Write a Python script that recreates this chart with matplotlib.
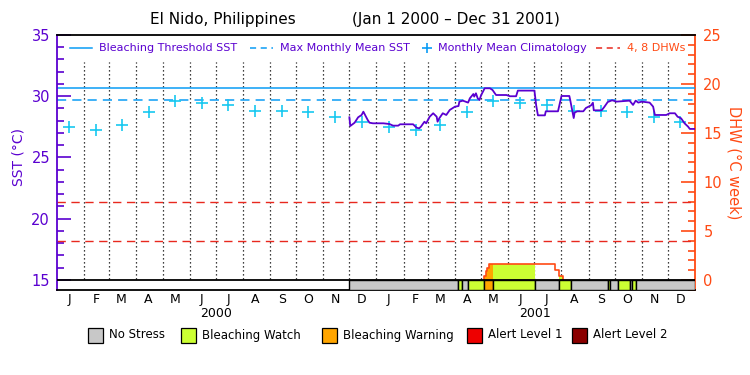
import matplotlib
matplotlib.use('Agg')
import matplotlib.pyplot as plt
import matplotlib.dates as mdates
from matplotlib.patches import Rectangle
from matplotlib.ticker import MultipleLocator, FixedLocator, FuncFormatter
import numpy as np

#------------------------------------ Data -------------------------------------

# Monthly mean climatology (deg C), Jan..Dec
clim_sst = [27.46, 27.24, 27.65, 28.69, 29.64, 29.42, 29.26, 28.82, 28.82, 28.69, 28.28, 27.92]
mmm_sst = 29.67
threshold_sst = 30.67
dhw_lines = [4, 8]

# SST
sst_dates = ['2000-12-01', '2000-12-02', '2000-12-07', '2000-12-11', '2000-12-15', '2000-12-17',
             '2000-12-20', '2000-12-22', '2000-12-24', '2000-12-28', '2001-01-09', '2001-01-16',
             '2001-01-20', '2001-01-26', '2001-01-28', '2001-02-12', '2001-02-16', '2001-02-19',
             '2001-02-21', '2001-02-25', '2001-02-27', '2001-03-03', '2001-03-07', '2001-03-11',
             '2001-03-12', '2001-03-14', '2001-03-18', '2001-03-22', '2001-03-26', '2001-04-01',
             '2001-04-05', '2001-04-06', '2001-04-10', '2001-04-16', '2001-04-18', '2001-04-22',
             '2001-04-23', '2001-04-25', '2001-04-27', '2001-04-29', '2001-05-01', '2001-05-03',
             '2001-05-05', '2001-05-11', '2001-05-14', '2001-05-18', '2001-05-30', '2001-06-03',
             '2001-06-10', '2001-06-12', '2001-07-01', '2001-07-03', '2001-07-05', '2001-07-13',
             '2001-07-14', '2001-07-28', '2001-08-01', '2001-08-10', '2001-08-11', '2001-08-15',
             '2001-08-16', '2001-08-19', '2001-08-26', '2001-08-29', '2001-09-04', '2001-09-06',
             '2001-09-07', '2001-09-16', '2001-09-19', '2001-09-23', '2001-09-28', '2001-10-03',
             '2001-10-18', '2001-10-22', '2001-10-25', '2001-10-28', '2001-11-01', '2001-11-10',
             '2001-11-14', '2001-11-16', '2001-11-29', '2001-12-03', '2001-12-09', '2001-12-12',
             '2001-12-16', '2001-12-20', '2001-12-24', '2001-12-26', '2001-12-31']
sst_vals = [28.28, 27.57, 27.84, 28.28, 28.47, 28.74,
            28.33, 28.06, 27.84, 27.79, 27.79, 27.73,
            27.60, 27.60, 27.71, 27.71, 27.43, 27.38,
            27.52, 27.92, 27.79, 28.33, 28.61, 28.33,
            27.92, 28.20, 28.61, 28.47, 28.88, 29.15,
            29.20, 29.56, 29.64, 29.48, 29.83, 30.18,
            29.97, 30.24, 29.83, 29.69, 30.10, 30.37,
            30.65, 30.65, 30.51, 30.10, 30.10, 30.00,
            30.00, 30.46, 30.46, 29.26, 28.44, 28.44,
            28.77, 28.77, 30.02, 30.02, 29.69, 28.22,
            28.66, 28.77, 28.77, 29.04, 29.26, 29.47,
            28.85, 28.85, 29.12, 29.53, 29.67, 29.56,
            29.64, 29.29, 29.64, 29.48, 29.56, 29.48,
            29.15, 28.47, 28.47, 28.61, 28.61, 28.33,
            28.20, 27.79, 27.52, 27.33, 27.33]

# Degree heating weeks (step values)
dhw_dates = ['2001-05-04', '2001-05-06', '2001-05-08', '2001-05-10', '2001-07-25', '2001-07-29', '2001-08-03']
dhw_vals = [0.44, 0.92, 1.19, 1.6, 1.02, 0.44, 0.0]

# Stress level periods (start dates, level), last one runs to end
stress_starts = ['2000-12-01', '2001-04-05', '2001-04-09', '2001-04-16', '2001-05-04', '2001-05-14',
                 '2001-07-02', '2001-07-29', '2001-08-12', '2001-09-23', '2001-09-26', '2001-10-05',
                 '2001-10-19', '2001-10-21', '2001-10-25']
stress_level = [0, 1, 0, 1, 2, 1, 0, 1, 0, 1, 0, 1, 0, 1, 0]
stress_end = '2002-01-01'

stress_names = ['No Stress', 'Bleaching Watch', 'Bleaching Warning', 'Alert Level 1', 'Alert Level 2']
stress_colors = ['#c8c8c8', '#ccff33', '#ffa500', '#ee0000', '#8b0000']

#------------------------------------ Style ------------------------------------

purple = '#5a00d0'
orange = '#ff4a14'
cyan_line = '#0a9cf5'
cyan_plus = '#18c8f0'
red_dash = '#e8281e'

def dhw2sst(d):
    return 15 + np.asarray(d) * 0.8

def sst2dhw(s):
    return (np.asarray(s) - 15) * 1.25

#------------------------------------ Figure -----------------------------------

fig = plt.figure(figsize=(7.5, 3.75), dpi=100)
ax = fig.add_axes([0.076, 0.2267, 0.8507, 0.68])

x0 = mdates.datestr2num('2000-01-01')
x1 = mdates.datestr2num('2002-01-01')
ybot = 15 - 10 / 12.25
ax.set_xlim(x0, x1)
ax.set_ylim(ybot, 35)

# month boundary dotted lines
month_starts = mdates.datestr2num(['%d-%02d-01' % (y, m) for y in (2000, 2001) for m in range(1, 13)])[1:]
ax.vlines(month_starts, 15.1, 32.8, colors='black', linestyles=(0, (1, 2.2)), lw=0.9, zorder=1)

# threshold and MMM lines
ax.axhline(threshold_sst, color=cyan_line, lw=1.1, zorder=2)
ax.axhline(mmm_sst, color=cyan_line, lw=1.1, ls=(0, (6, 4)), zorder=2)
for d in dhw_lines:
    ax.axhline(dhw2sst(d), color=red_dash, lw=1.0, ls=(0, (6, 4)), zorder=2)

# climatology crosses
clim_dates = mdates.datestr2num(['%d-%02d-15' % (y, m) for y in (2000, 2001) for m in range(1, 13)])
ax.plot(clim_dates, clim_sst * 2, ls='none', marker='+', ms=9, mew=1.2, color=cyan_plus, zorder=3)

# SST
ax.plot(mdates.datestr2num(sst_dates), sst_vals, color=purple, lw=1.3, zorder=4)

# DHW fill per stress period, then outline
dx = mdates.datestr2num(dhw_dates)
dv = np.array(dhw_vals)
s_x = mdates.datestr2num(stress_starts + [stress_end])
for i, lvl in enumerate(stress_level):
    if lvl == 0:
        continue
    s, e = s_x[i], s_x[i + 1]
    pts = np.unique(np.r_[s, dx[(dx > s) & (dx < e)], e])
    idx = np.searchsorted(dx, pts, side='right') - 1
    v = np.where(idx >= 0, dv[np.clip(idx, 0, None)], 0.0)
    ax.fill_between(pts, 15, dhw2sst(v), step='post', color=stress_colors[lvl], lw=0, zorder=2.5)
ax.step(np.r_[dx[0], dx], dhw2sst(np.r_[0, dv]), where='post', color=orange, lw=1.2, zorder=3)

# stress bar
for i, lvl in enumerate(stress_level):
    ax.bar(s_x[i], 15 - ybot, width=s_x[i + 1] - s_x[i], bottom=ybot, align='edge',
           color=stress_colors[lvl], edgecolor='black', lw=1.0, zorder=5)
ax.axhline(15, color='black', lw=1.3, zorder=6)

#------------------------------------ Axes -------------------------------------

ax.yaxis.set_major_locator(FixedLocator([15, 20, 25, 30, 35]))
ax.yaxis.set_minor_locator(FixedLocator(list(range(16, 35))))
ax.tick_params(axis='y', which='major', direction='in', length=10, width=1.2, colors=purple,
               labelsize=10.5, pad=5)
ax.tick_params(axis='y', which='minor', direction='in', length=5, width=1.2, colors=purple)
ax.set_ylabel('SST (°C)', color=purple, fontsize=10)
ax.yaxis.set_label_coords(-0.05, 0.52)

ax.xaxis.set_major_locator(FixedLocator(clim_dates))
ax.xaxis.set_major_formatter(FuncFormatter(lambda x, p: mdates.num2date(x).strftime('%b')[0]))
ax.tick_params(axis='x', length=0, labelsize=9, pad=2.5)

ax.spines['left'].set_color(purple)
ax.spines['right'].set_visible(False)
for sp in ('left', 'top', 'bottom'):
    ax.spines[sp].set_linewidth(1.3)

sec = ax.secondary_yaxis('right', functions=(sst2dhw, dhw2sst))
sec.yaxis.set_major_locator(FixedLocator([0, 5, 10, 15, 20, 25]))
sec.yaxis.set_minor_locator(MultipleLocator(1))
sec.tick_params(which='major', direction='in', length=10, width=1.2, colors=orange, labelsize=10.5, pad=6)
sec.tick_params(which='minor', direction='in', length=5, width=1.2, colors=orange)
sec.spines['right'].set_color(orange)
sec.spines['right'].set_linewidth(1.3)
sec.set_ylabel('DHW (°C week)', color=orange, fontsize=10.5, rotation=270, labelpad=14)

xt = ax.get_xaxis_transform()
ax.text(mdates.datestr2num('2000-07-01'), -0.094, '2000', transform=xt, ha='center', va='center', fontsize=9)
ax.text(mdates.datestr2num('2001-07-02'), -0.094, '2001', transform=xt, ha='center', va='center', fontsize=9)

#------------------------------------ Legends ----------------------------------

ly = 0.949
ax.plot([0.020, 0.055], [ly, ly], transform=ax.transAxes, color=cyan_line, lw=1.1)
ax.text(0.066, ly, 'Bleaching Threshold SST', transform=ax.transAxes, color=purple, fontsize=8, va='center')
ax.plot([0.302, 0.339], [ly, ly], transform=ax.transAxes, color=cyan_line, lw=1.1, ls=(0, (4, 3)))
ax.text(0.350, ly, 'Max Monthly Mean SST', transform=ax.transAxes, color=purple, fontsize=8, va='center')
ax.plot([0.580], [ly], transform=ax.transAxes, marker='+', ms=7, mew=1.2, color=cyan_line)
ax.text(0.597, ly, 'Monthly Mean Climatology', transform=ax.transAxes, color=purple, fontsize=8, va='center')
ax.plot([0.845, 0.882], [ly, ly], transform=ax.transAxes, color=red_dash, lw=1.1, ls=(0, (4, 3)))
ax.text(0.893, ly, '4, 8 DHWs', transform=ax.transAxes, color=orange, fontsize=8, va='center')

fig.text(0.2, 0.947, 'El Nido, Philippines', fontsize=11, va='center')
fig.text(0.469, 0.947, '(Jan 1 2000 – Dec 31 2001)', fontsize=11, va='center')

box_x = [88, 181, 322, 467, 572]
for bx, name, col in zip(box_x, stress_names, stress_colors):
    fig.add_artist(Rectangle((bx / 750, 1 - 343 / 375), 15 / 750, 15 / 375, transform=fig.transFigure,
                             facecolor=col, edgecolor='black', lw=0.9))
    fig.text((bx + 21) / 750, 1 - 335 / 375, name, fontsize=8.5, va='center')

fig.savefig('out.png', dpi=100)
